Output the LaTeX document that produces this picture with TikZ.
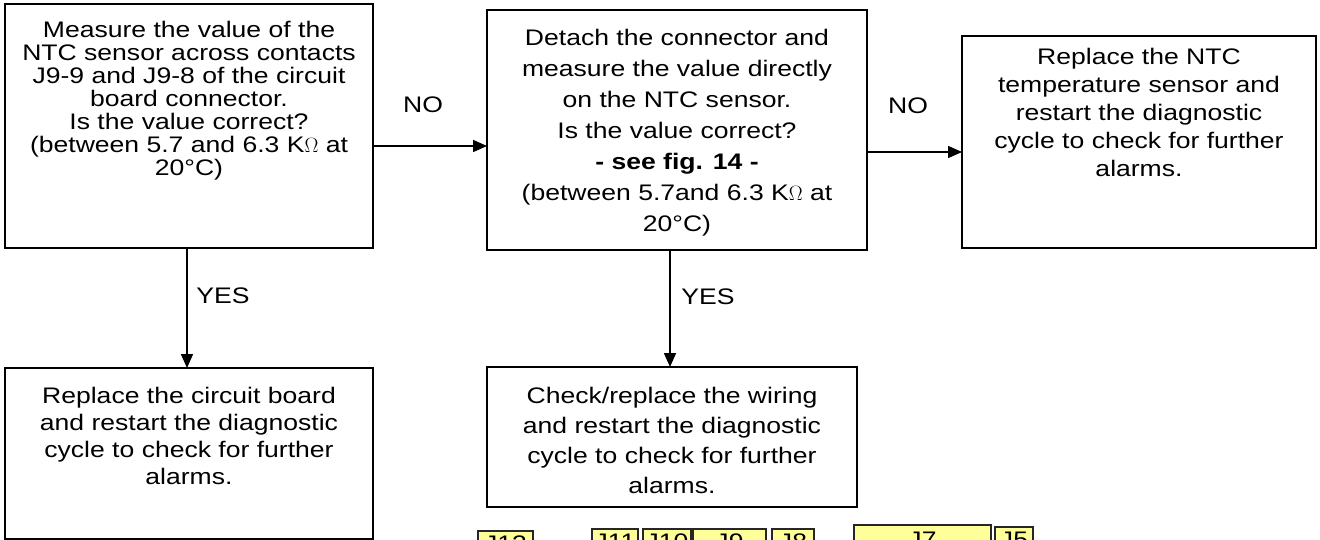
\documentclass[tikz,border=0pt]{standalone}
\usepackage{fontspec}
\setmainfont{Liberation Sans}[FakeStretch=1.18]
\usetikzlibrary{arrows.meta}
\definecolor{jyellow}{HTML}{FFFF99}
\tikzset{
  box/.style={draw, line width=1.6pt, anchor=north west, inner sep=0pt, outer sep=0pt},
  txt/.style={anchor=north, inner sep=0pt, align=center, font=\fontsize{22.5}{#1}\selectfont},
  lbl/.style={inner sep=0pt, font=\fontsize{22.5}{26}\selectfont},
  arr/.style={line width=1.6pt, -{Triangle[length=14pt,width=12pt]}},
  jbox/.style={draw=black!85, line width=1.3pt, fill=jyellow, anchor=north west, inner sep=0pt, outer sep=0pt},
  jtxt/.style={anchor=north, inner sep=0pt, font=\fontsize{22.5}{26}\selectfont}
}
\begin{document}
\begin{tikzpicture}[x=1pt,y=-1pt]
\useasboundingbox (0,0) rectangle (1320,540);
% boxes
\node[box, minimum width=368pt, minimum height=244pt] (b1) at (5,4) {};
\node[box, minimum width=380pt, minimum height=240pt] (b2) at (487,10) {};
\node[box, minimum width=354pt, minimum height=212pt] (b3) at (962,36) {};
\node[box, minimum width=368pt, minimum height=171pt] (b4) at (5,368) {};
\node[box, minimum width=370pt, minimum height=140pt] (b5) at (487,367) {};
% texts
\node[txt=23] (t1) at (189,21) {Measure the value of the\\NTC sensor across contacts\\J9-9 and J9-8 of the circuit\\board connector.\\Is the value correct?\\(between 5.7 and 6.3 K$\Omega$ at\\20°C)};
\node[txt=31] (t2) at (677,29) {Detach the connector and\\measure the value directly\\on the NTC sensor.\\Is the value correct?\\\textbf{- see fig. 14 -}\\(between 5.7and 6.3 K$\Omega$ at\\20°C)};
\node[txt=28] (t3) at (1139,48) {Replace the NTC\\temperature sensor and\\restart the diagnostic\\cycle to check for further\\alarms.};
\node[txt=27] (t4) at (189,387) {Replace the circuit board\\and restart the diagnostic\\cycle to check for further\\alarms.};
\node[txt=30] (t5) at (672,387) {Check/replace the wiring\\and restart the diagnostic\\cycle to check for further\\alarms.};
% connectors
\coordinate (a1) at (0,146);
\coordinate (a2) at (0,152);
\coordinate (v1) at (187,0);
\coordinate (v2) at (670,0);
\draw[arr] (b1.east |- a1) -- (b2.west |- a1);
\draw[arr] (b2.east |- a2) -- (b3.west |- a2);
\draw[arr] (b1.south -| v1) -- (b4.north -| v1);
\draw[arr] (b2.south -| v2) -- (b5.north -| v2);
\node[lbl] (no1) at (423,105) {NO};
\node[lbl] (no2) at (908,106) {NO};
\node[lbl] (yes1) at (223,296) {YES};
\node[lbl] (yes2) at (708,297) {YES};
% connector labels at bottom, cut by the page edge
\begin{scope}
\clip (0,0) rectangle (1320,540);
\node[jbox, minimum width=55pt, minimum height=40pt] (j13) at (478,531) {};
\node[jbox, minimum width=46pt, minimum height=40pt] (j11) at (592,529) {};
\node[jbox, minimum width=48pt, minimum height=40pt] (j10) at (643,529) {};
\node[jbox, minimum width=73pt, minimum height=40pt] (j9) at (693,529) {};
\node[jbox, minimum width=42pt, minimum height=40pt] (j8) at (772,529) {};
\node[jbox, minimum width=137pt, minimum height=40pt] (j7) at (854,525) {};
\node[jbox, minimum width=38pt, minimum height=40pt] (j5) at (995,527) {};
\node[jtxt] at ([yshift=-5pt]j13.north) {J13};
\node[jtxt] at ([yshift=-5pt]j11.north) {J11};
\node[jtxt] at ([yshift=-5pt]j10.north) {J10};
\node[jtxt] at ([yshift=-5pt]j9.north) {J9};
\node[jtxt] at ([yshift=-5pt]j8.north) {J8};
\node[jtxt] at ([yshift=-7pt]j7.north) {J7};
\node[jtxt] at ([yshift=-5pt]j5.north) {J5};
\end{scope}
\end{tikzpicture}
\end{document}
